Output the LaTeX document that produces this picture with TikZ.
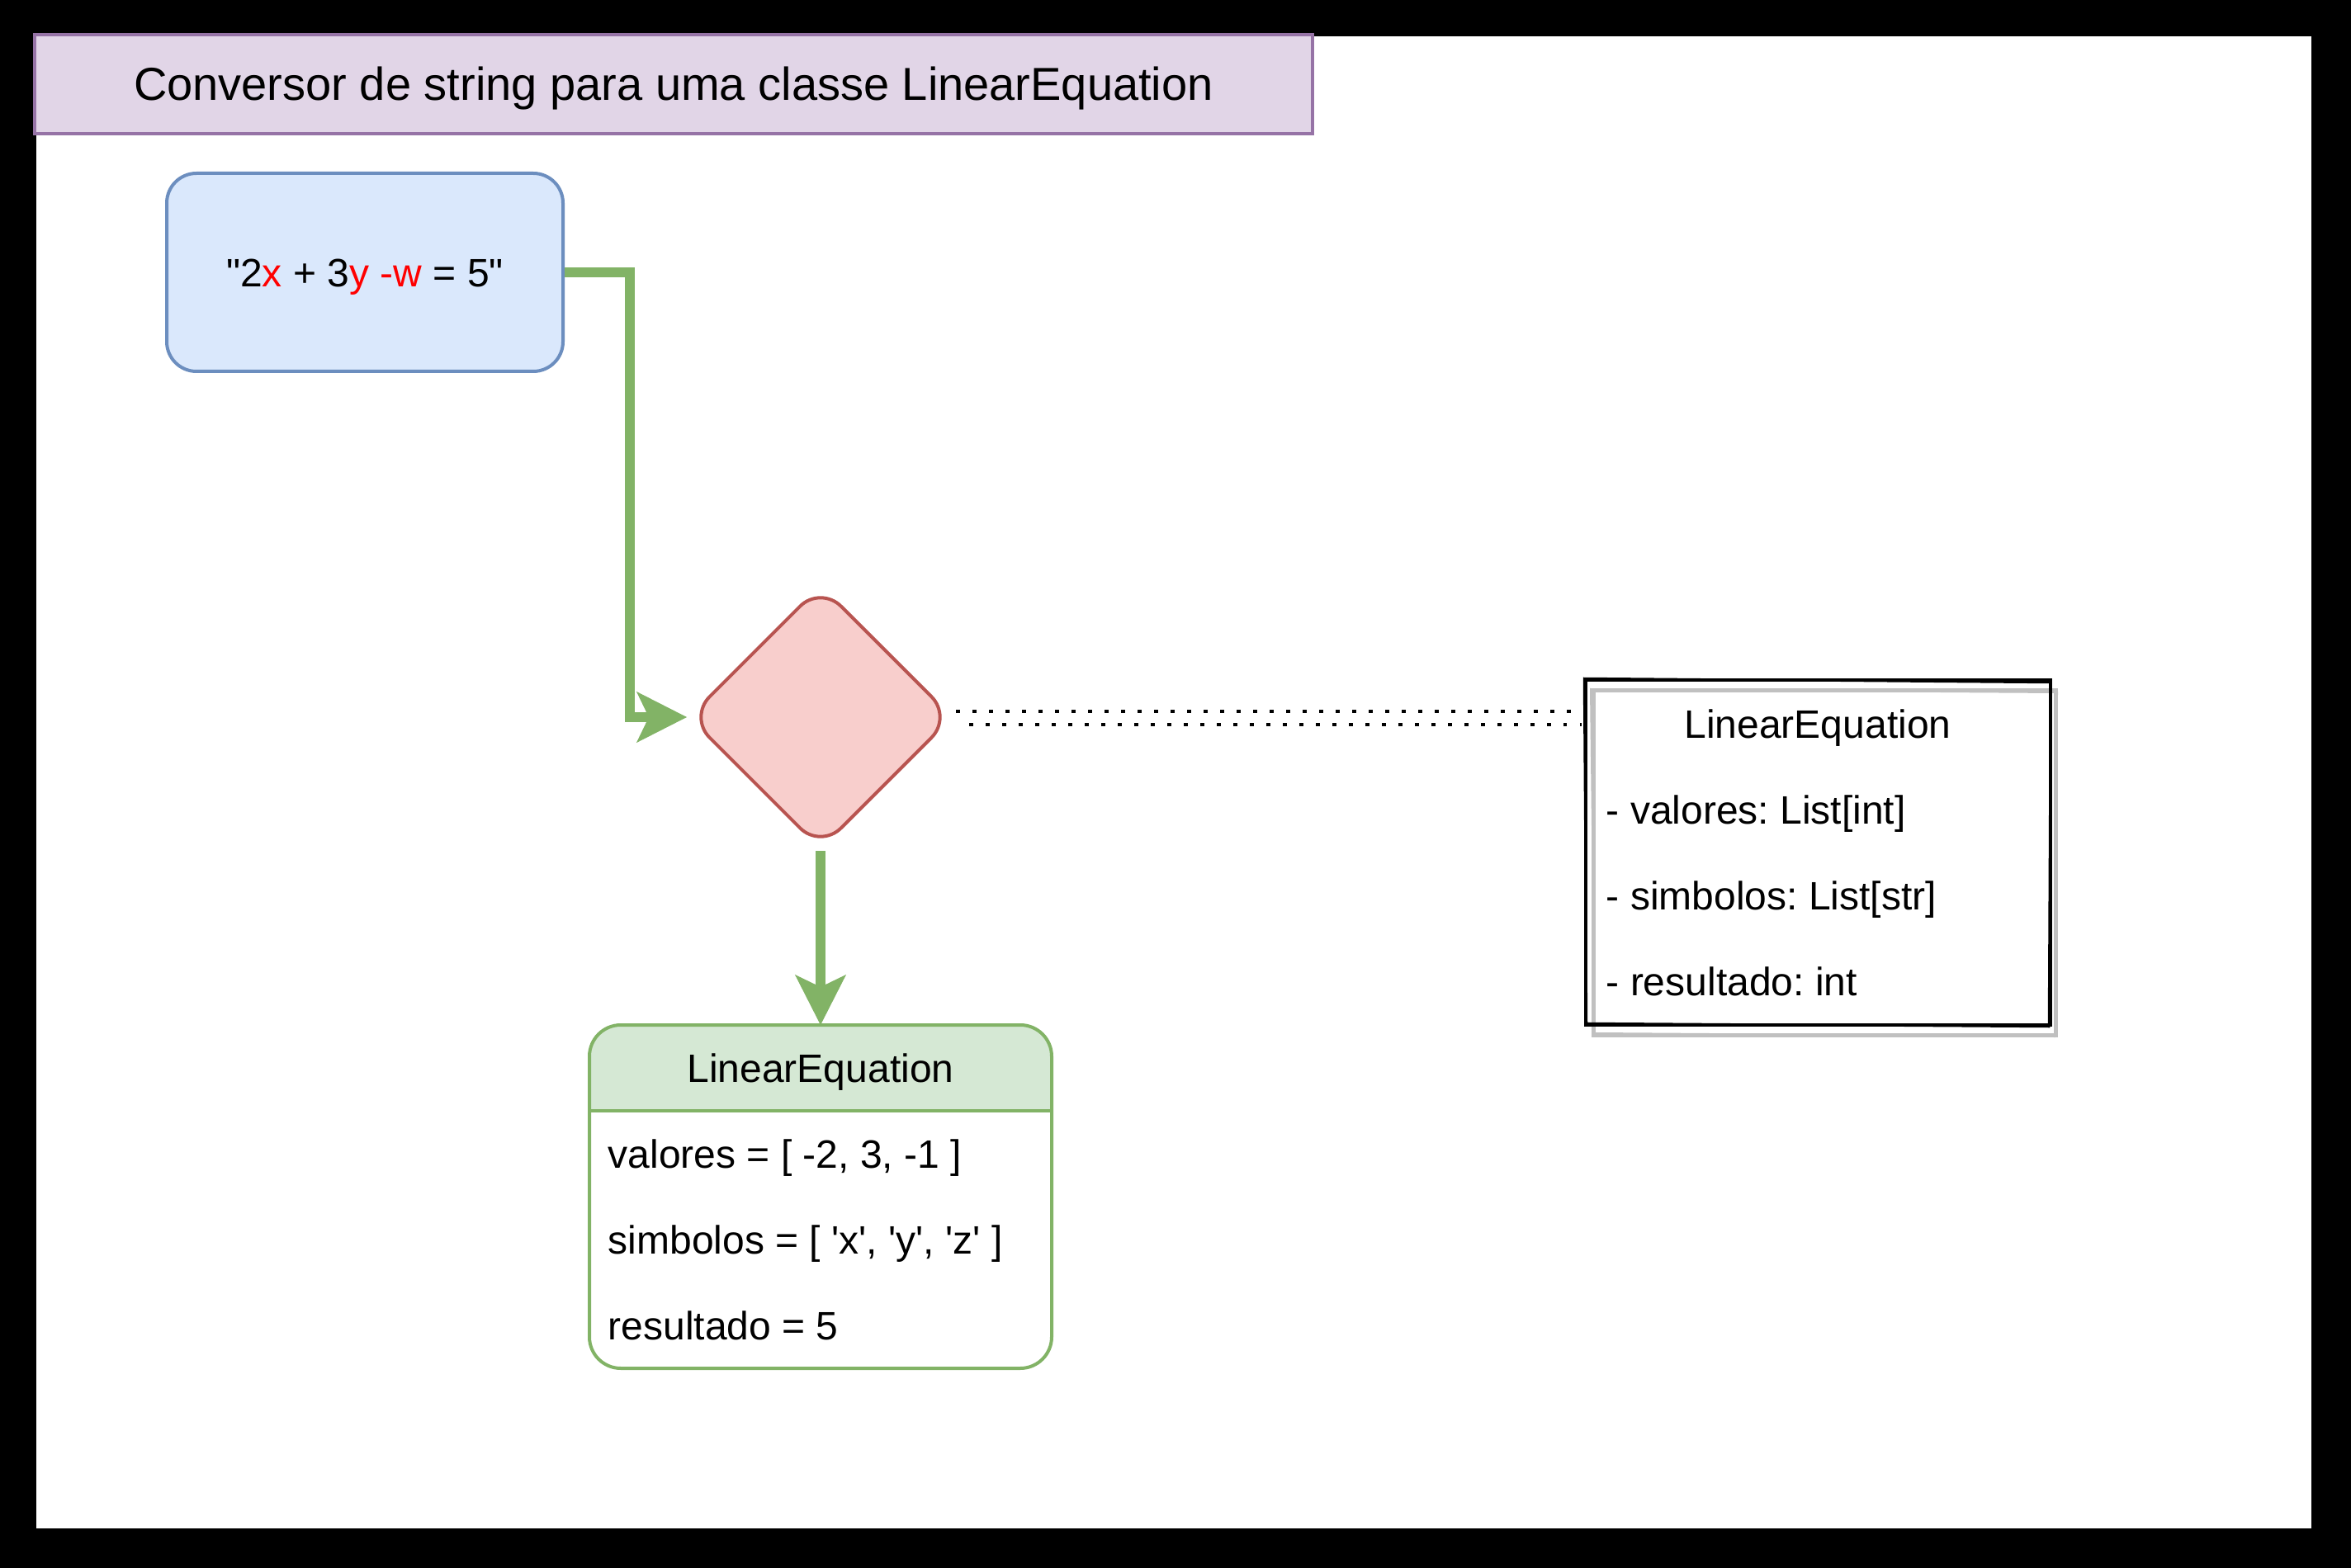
\documentclass[tikz,border=0pt]{standalone}
\usepackage{fontspec}
\newfontfamily\diagfont{Liberation Sans}
\usetikzlibrary{shapes.geometric, arrows.meta, calc}

\definecolor{titlefill}{HTML}{E1D5E7}
\definecolor{titleline}{HTML}{9673A6}
\definecolor{strfill}{HTML}{DAE8FC}
\definecolor{strline}{HTML}{6C8EBF}
\definecolor{convfill}{HTML}{F8CECC}
\definecolor{convline}{HTML}{B85450}
\definecolor{eqline}{HTML}{82B366}
\definecolor{eqfill}{HTML}{D5E8D4}
\definecolor{eqred}{HTML}{FF0000}
\definecolor{shadowgray}{HTML}{C0C0C0}

\tikzset{
	txt/.style={font=\diagfont\frenchspacing\fontsize{13.66}{16}\selectfont, inner sep=0pt, text height=0.35cm, text depth=0cm},
	field/.style={txt, anchor=west},
	titlebox/.style={draw=titleline, fill=titlefill, line width=0.04cm, minimum width=15.48cm, minimum height=1.2cm, font=\diagfont\frenchspacing\fontsize{15.94}{18}\selectfont, text height=0.40cm, text depth=0cm},
	strbox/.style={txt, draw=strline, fill=strfill, line width=0.04cm, rounded corners=0.36cm, minimum width=4.8cm, minimum height=2.4cm},
	convbox/.style={diamond, draw=convline, fill=convfill, line width=0.04cm, rounded corners=0.35cm, minimum width=3.2cm, minimum height=3.2cm, inner sep=0pt},
	eqbox/.style={minimum width=5.6cm, minimum height=4.16cm, inner sep=0pt, outer sep=0pt},
	eqedge/.style={draw=eqline, line width=0.04cm},
	umlbox/.style={draw=black, line width=0.04cm, minimum width=5.63cm, minimum height=4.18cm, inner sep=0pt, outer sep=0pt},
	sketch/.style={draw=black, line width=0.025cm},
	shadowline/.style={draw=shadowgray, line width=0.05cm},
	flow/.style={draw=eqline, line width=0.12cm, -{Stealth[length=0.61cm, width=0.62cm, inset=0.15cm, line width=0.01cm]}},
	dotline/.style={line width=0.045cm, dash pattern=on 0.045cm off 0.155cm},
}

\begin{document}
\begin{tikzpicture}
	% page frame
	\fill[black] (0,0) rectangle (28.48,-19);
	\fill[white] (0.44,-0.44) rectangle (28.00,-18.52);

	\node[titlebox] (title) at (8.16,-1.02) {Conversor de string para uma classe LinearEquation};

	\node[strbox] (str) at (4.42,-3.30) {"2\textcolor{eqred}{x} + 3\textcolor{eqred}{y} \textcolor{eqred}{-w} = 5"};
	\node[convbox] (conv) at (9.94,-8.69) {};

	% resulting object
	\node[eqbox] (eq) at (9.94,-14.50) {};
	\fill[eqfill, rounded corners=0.38cm] (eq.north west) rectangle ([yshift=-1.04cm]eq.north east);
	\fill[eqfill] ([yshift=-0.5cm]eq.north west) rectangle ([yshift=-1.04cm]eq.north east);
	\draw[eqedge] ([yshift=-1.04cm]eq.north west) -- ([yshift=-1.04cm]eq.north east);
	\draw[eqedge, rounded corners=0.38cm] (eq.north west) rectangle (eq.south east);
	\node[txt] (eqname) at (9.94,-12.94) {LinearEquation};
	\node[field] (eqval) at (7.36,-13.98) {valores = [ -2, 3, -1 ]};
	\node[field] (eqsym) at (7.36,-15.02) {simbolos = [ 'x', 'y', 'z' ]};
	\node[field] (eqres) at (7.36,-16.06) {resultado = 5};

	% class, sketch style
	\draw[shadowline] (19.30,-8.37) rectangle (24.90,-12.54);
	\draw[shadowline, line width=0.02cm] (19.27,-8.35) -- (24.92,-8.39) -- (24.89,-12.56) -- (19.32,-12.52) -- cycle;
	\node[umlbox] (uml) at (22.02,-10.33) {};
	\draw[sketch] (19.19,-8.22) -- (24.84,-8.27) -- (24.82,-12.44) -- (19.22,-12.40) -- cycle;
	\node[txt] (umlname) at (22.02,-8.77) {LinearEquation};
	\node[field] (umlval) at (19.45,-9.81) {- valores: List[int]};
	\node[field] (umlsym) at (19.45,-10.85) {- simbolos: List[str]};
	\node[field] (umlres) at (19.45,-11.89) {- resultado: int};

	% connectors
	\draw[flow] (str.east) -- ++(0.79,0) |- (conv.west);
	\draw[flow] (conv.south) -- (eq.north);
	\draw[dotline] ($(conv.east)+(0.02,0.07)$) -- ($(conv.east -| uml.west)+(-0.05,0.07)$);
	\draw[dotline] ($(conv.east)+(0.18,-0.09)$) -- ($(conv.east -| uml.west)+(-0.05,-0.09)$);
\end{tikzpicture}
\end{document}
